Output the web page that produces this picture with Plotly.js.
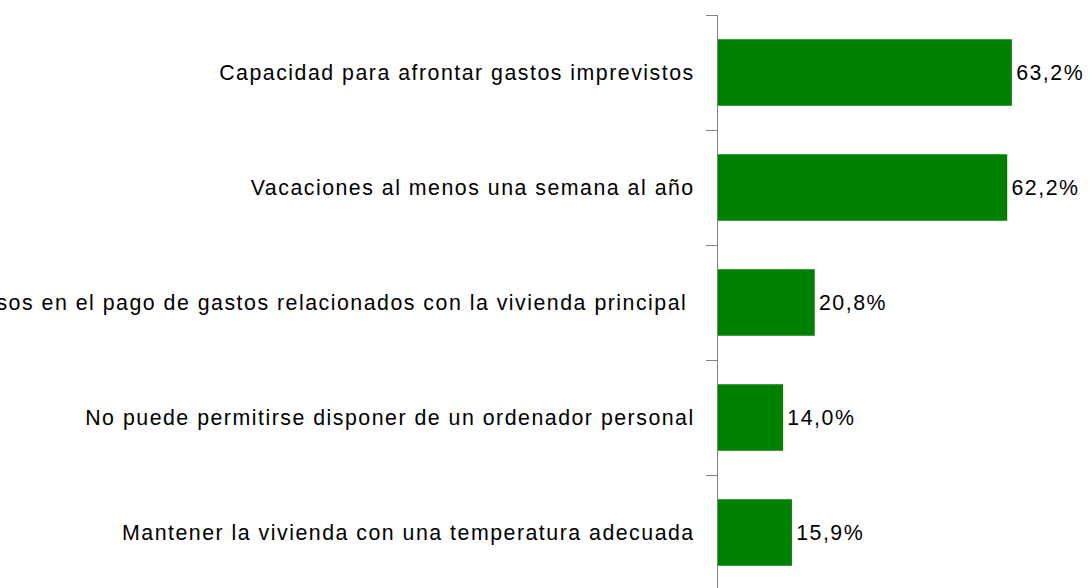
<!DOCTYPE html>
<html>
<head>
<meta charset="utf-8">
<script src="https://cdn.plot.ly/plotly-3.0.1.min.js"></script>
<style>
html,body{margin:0;padding:0;overflow:hidden;background:#fff;}
#chart{width:1090px;height:600px;}
#chart text{letter-spacing:1.5px;}
</style>
</head>
<body>
<div id="chart"></div>
<script>
const categories = [
  "Capacidad para afrontar gastos imprevistos",
  "Vacaciones al menos una semana al año",
  "Retrasos en el pago de gastos relacionados con la vivienda principal\u00a0",
  "No puede permitirse disponer de un ordenador personal",
  "Mantener la vivienda con una temperatura adecuada"
];
const values = [63.2, 62.2, 20.8, 14.0, 15.9];

const trace = {
  type: 'bar',
  orientation: 'h',
  x: values,
  y: categories,
  marker: {color: '#008000'},
  width: 0.58,
  texttemplate: '\u2009%{x:.1f}%',
  textposition: 'outside',
  textfont: {family: 'Liberation Sans, Arial, sans-serif', size: 21.33, color: '#000'},
  cliponaxis: false,
  hoverinfo: 'none'
};

const layout = {
  width: 1090,
  height: 600,
  margin: {l: 718, r: 0, t: 15, b: 10},
  paper_bgcolor: '#fff',
  plot_bgcolor: '#fff',
  separators: ',.',
  showlegend: false,
  font: {family: 'Liberation Sans, Arial, sans-serif', size: 21.33, color: '#000'},
  xaxis: {
    range: [0, 80],
    visible: false,
    showgrid: false,
    zeroline: false
  },
  yaxis: {
    autorange: 'reversed',
    type: 'category',
    showline: true,
    linecolor: '#808080',
    linewidth: 1,
    ticks: 'outside',
    tickson: 'boundaries',
    ticklen: 11,
    tickcolor: '#808080',
    tickwidth: 1,
    showgrid: false,
    zeroline: false,
    automargin: false,
    ticklabelstandoff: 18,
    tickfont: {family: 'Liberation Sans, Arial, sans-serif', size: 21.33, color: '#000'}
  }
};

Plotly.newPlot('chart', [trace], layout, {staticPlot: true, displayModeBar: false});
</script>
</body>
</html>
